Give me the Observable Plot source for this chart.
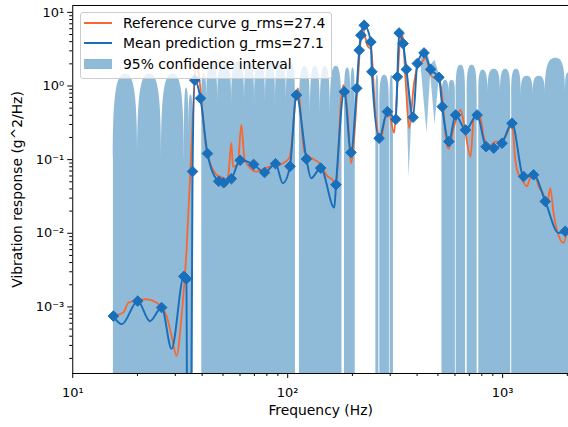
<!DOCTYPE html>
<html><head><meta charset="utf-8">
<script src="https://cdn.jsdelivr.net/npm/d3@7"></script>
<script src="https://cdn.jsdelivr.net/npm/@observablehq/plot@0.6"></script>
<style>
html,body{margin:0;padding:0;background:#fff;}
#wrap{position:relative;width:568px;height:427px;overflow:hidden;font-family:"DejaVu Sans",sans-serif;}
#wrap svg{display:block;}
#legend{position:absolute;left:80px;top:12px;width:252px;height:67px;box-sizing:border-box;border:1px solid #cccccc;border-radius:3px;background:rgba(255,255,255,0.8);}
#legend .txt{position:absolute;left:42px;font-size:13.9px;line-height:16px;white-space:nowrap;color:#000;}
#legend .ln{position:absolute;left:3px;width:28px;height:2px;}
#legend .patch{position:absolute;left:3px;width:28px;height:10px;}
</style></head>
<body>
<div id="wrap"></div>
<script>
// ---- observed points (diamonds) ----
const obsFreq = [15.46,20.06,25.91,32.88,33.77,36.08,36.97,39.30,42.34,47.77,50.39,54.70,60.10,69.41,78.06,87.79,102.5,109.8,122.2,142.4,167.8,183.3,197.0,209.5,215.2,219.1,227.0,243.8,246.5,266.4,291.1,318.4,323.9,329.8,344.2,356.6,383.1,401.0,430.7,462.6,505.5,523.6,562.4,604.3,672.2,761.0,837.5,909.4,993.6,1105.5,1252.6,1393.6,1579,1955];
const obsVal  = [7.5e-4,1.2e-3,9.8e-4,2.6e-3,2.4e-3,0.069,1.2,0.68,0.121,0.0508,0.0485,0.055,0.098,0.086,0.067,0.088,0.081,0.753,0.102,0.0768,0.0456,0.835,0.125,0.93,3.06,4.89,6.67,3.96,1.56,0.195,0.448,0.353,1.33,5.25,3.77,1.68,0.376,2.02,2.81,1.68,1.31,0.524,0.176,0.404,0.253,0.404,0.150,0.143,0.167,0.312,0.059,0.0622,0.0271,0.01064];

// ---- mean prediction curve ----
const meanFreq = [15.46,16.91,20.06,22.87,25.91,28.83,32.88,33.77,34.31,35.17,36.08,36.97,39.30,42.34,47.77,50.39,54.70,60.10,69.41,78.06,87.79,94.9,102.5,109.8,122.2,128.5,142.4,164.8,167.8,183.3,197.0,209.5,215.2,219.1,227.0,243.8,246.5,266.4,291.1,318.4,323.9,329.8,344.2,356.6,383.1,401.0,430.7,462.6,505.5,523.6,562.4,604.3,672.2,761.0,837.5,909.4,993.6,1105.5,1252.6,1393.6,1579,1820,1955,1982];
const meanVal  = [7.5e-4,5.8e-4,1.2e-3,6.4e-4,9.8e-4,2.7e-4,2.6e-3,2.4e-3,1e-7,1e-7,0.069,1.2,0.68,0.121,0.0508,0.0485,0.055,0.098,0.086,0.067,0.088,0.048,0.081,0.753,0.102,0.056,0.0768,0.0223,0.0456,0.835,0.125,0.93,3.06,4.89,6.67,3.96,1.56,0.195,0.448,0.353,1.33,5.25,3.77,1.68,0.376,2.02,2.81,1.68,1.31,0.524,0.176,0.404,0.253,0.404,0.150,0.143,0.167,0.312,0.059,0.0622,0.0271,0.0101,0.01064,0.0115];

// ---- reference curve ----
const refFreq = [15.46,17.2,18.14,20.06,22.08,24.57,27.33,28.83,30.42,32.08,33.84,35.62,37.57,38.59,41.89,46.61,50.02,51.86,53.15,54.70,55.65,58.50,60.88,63.05,71.44,82.34,91.61,101.9,111.4,119.6,126.2,133.1,140.4,153.4,161.8,167.8,177.0,181.4,189.9,197.0,211.3,217.5,224.6,234.4,244.6,255.3,271.3,284.0,296.5,312.7,322.9,333.4,341.6,354.3,367.0,387.1,401.0,417.1,438.6,462.6,488.0,505.5,523.6,552.4,562.4,593.3,614.6,637.3,660.1,709.1,734.4,761.0,789.0,817.2,862.1,925.9,959.3,1030,1105.5,1146,1166,1230,1298,1345,1419,1470,1551,1606,1666,1725,1853,1920,1982];
const refVal  = [7.6e-4,8.4e-4,1.14e-3,1.23e-3,1.27e-3,1.14e-3,7.5e-4,4.04e-4,2.17e-4,7.5e-4,6.02e-3,0.136,2.11,1.40,0.136,0.0623,0.0562,0.0442,0.0684,0.169,0.0799,0.0851,0.296,0.0994,0.069,0.0806,0.0851,0.106,0.928,0.1275,0.110,0.0994,0.0897,0.0591,0.0533,0.0433,0.645,1.03,0.426,0.0897,0.975,3.58,5.71,3.58,3.06,0.472,0.185,0.368,0.404,0.2305,0.880,4.18,5.20,1.09,0.269,1.09,1.82,2.04,2.39,1.40,1.28,1.32,0.714,0.150,0.140,0.280,0.383,0.472,0.312,0.110,0.383,0.426,0.368,0.2054,0.150,0.176,0.176,0.2054,0.296,0.0994,0.0728,0.0533,0.0433,0.0567,0.0591,0.0433,0.0334,0.0232,0.0411,0.0189,0.00822,0.00742,0.0101];

// ---- 95% confidence interval: upper bound at notches / arch tops (lower bound is negative -> floor) ----
const bandFreq = [15.46,17.61,20.06,22.80,25.91,29.26,33.06,33.84,34.68,35.50,36.31,37.5,
 39.84,40.92,42.03,44.57,47.27,50.93,54.89,58.83,63.05,66.51,70.15,74.40,78.90,83.22,87.79,93.10,98.73,103.6,108.7,109.8,
 113.4,120.3,127.6,134.6,141.9,149.7,157.9,168.2,178.9,180.5,
 183.7,190.1,197.0,201.4,206.2,210,
 257.2,261.4,265.6,267.0,268.4,282.6,297.4,298.5,299.6,304.9,310.4,400,
 522.0,541.8,562.4,581.9,602.8,605.5,607.9,639.3,672.2,677,683.8,721.3,761.0,768,774.7,810.3,854.7,914.1,977.8,1034,1090,1096,1102,1159,1220,1300,1386,1479,1579,1772,1961,2025];
const bandUpper = [0.0994,1.45,0.0994,1.45,0.0994,1.45,0.0994,0.937,0.2,0.753,0.2,null,
 0.551,1.45,0.551,2.11,0.551,2.11,0.551,2.11,0.551,2.11,0.551,2.11,0.551,2.11,0.551,2.11,0.551,2.11,0.551,null,
 0.346,1.86,0.346,1.86,0.346,1.86,0.346,1.86,0.346,null,
 0.5,1.75,0.472,1.75,0.5,null,
 0.5,1.40,0.5,null,0.5,1.40,0.5,null,0.5,1.40,0.5,null,
 0.5,1.20,0.753,1.20,0.753,null,0.753,1.92,0.753,null,0.753,1.92,0.753,null,0.753,1.64,0.753,1.69,0.753,1.69,0.753,null,0.753,1.69,0.753,1.36,0.753,1.36,0.753,2.39,0.753,1.5];
const bandFloor = 1e-6;

// ---- narrow interval wisps around the 300-500 Hz peaks ----
const wispFreq = [344.2,356.6,367.0,376.9,383.1,390,417.1,444.7,462.6,484.5,505.5];
const wispLo   = [3.2,1.45,0.058,0.3,0.33,null,1.9,0.23,1.45,0.3,1.15];
const wispHi   = [4.4,1.95,1.0,0.55,0.42,null,2.3,3.2,1.9,2.24,1.5];

// ---- ticks ----
const xMajor = [10,100,1000];
const xMinor = [20,30,40,50,60,70,80,90,200,300,400,500,600,700,800,900,2000];
const yMajor = [1e-3,1e-2,1e-1,1,10];
const yMinor = [2e-4,3e-4,4e-4,5e-4,6e-4,7e-4,8e-4,9e-4,2e-3,3e-3,4e-3,5e-3,6e-3,7e-3,8e-3,9e-3,2e-2,3e-2,4e-2,5e-2,6e-2,7e-2,8e-2,9e-2,0.2,0.3,0.4,0.5,0.6,0.7,0.8,0.9,2,3,4,5,6,7,8,9];

const xLabel = "Frequency (Hz)";
const yLabel = "Vibration response (g^2/Hz)";
const legendLabels = ["Reference curve g_rms=27.4","Mean prediction g_rms=27.1","95% confidence interval"];

const BLUE = "#1a6fba", BAND = "#1f77b4", ORANGE = "#f8672f";

const supMap = {"-":"\u207B","0":"\u2070","1":"\u00B9","2":"\u00B2","3":"\u00B3","4":"\u2074","5":"\u2075","6":"\u2076","7":"\u2077","8":"\u2078","9":"\u2079"};
const fmt = d => "10" + String(Math.round(Math.log10(d))).split("").map(c => supMap[c]).join("");

// rendering curve for the interval: leaves a notch vertically, arrives at an arch top horizontally
function ArchCurve(context) { this._context = context; }
ArchCurve.prototype = {
  areaStart() { this._line = 0; },
  areaEnd() { this._line = NaN; },
  lineStart() { this._point = 0; },
  lineEnd() {
    if (this._line || (this._line !== 0 && this._point === 1)) this._context.closePath();
    this._line = 1 - this._line;
  },
  point(x, y) {
    x = +x; y = +y;
    if (this._point === 0) {
      this._point = 1;
      this._line ? this._context.lineTo(x, y) : this._context.moveTo(x, y);
    } else {
      const x0 = this._x, y0 = this._y, dx = x - x0;
      if (y < y0 - 0.01) this._context.bezierCurveTo(x0, y0 + (y - y0) * 0.8, x0 + dx * 0.3, y, x, y);
      else if (y > y0 + 0.01) this._context.bezierCurveTo(x - dx * 0.3, y0, x, y + (y0 - y) * 0.8, x, y);
      else this._context.lineTo(x, y);
    }
    this._x = x; this._y = y;
  }
};
const curveArch = ctx => new ArchCurve(ctx);

const obs = obsFreq.map((f,i) => ({f, v: obsVal[i]}));
const mean = meanFreq.map((f,i) => ({f, v: meanVal[i]}));
const ref = refFreq.map((f,i) => ({f, v: refVal[i]}));
const band = bandFreq.map((f,i) => ({f, hi: bandUpper[i]}));
const wisp = wispFreq.map((f,i) => ({f, lo: wispLo[i], hi: wispHi[i]}));

const chart = Plot.plot({
  width: 570, height: 427,
  marginLeft: 72.5, marginRight: 0, marginTop: 5, marginBottom: 52.7,
  style: {fontFamily: '"DejaVu Sans", sans-serif', fontSize: "13px", color: "black", background: "white", overflow: "visible"},
  x: {type: "log", domain: [10, 2025], label: null},
  y: {type: "log", domain: [1.247e-4, 12.4], label: null},
  marks: [
    Plot.areaY(band, {x: "f", y1: bandFloor, y2: "hi", fill: BAND, fillOpacity: 0.5, curve: curveArch, clip: true}),
    Plot.areaY(wisp, {x: "f", y1: "lo", y2: "hi", fill: BAND, fillOpacity: 0.45, curve: "linear", clip: true}),
    Plot.line(ref, {x: "f", y: "v", stroke: ORANGE, strokeWidth: 1.8, curve: "monotone-x", clip: true}),
    Plot.line(mean, {x: "f", y: "v", stroke: BLUE, strokeWidth: 2, curve: "monotone-x", clip: true}),
    Plot.dot(obs, {x: "f", y: "v", symbol: "diamond2", r: 4.8, fill: BLUE, stroke: BLUE, strokeWidth: 1}),
    Plot.frame({stroke: "black", strokeWidth: 1}),
    Plot.axisX(xMajor, {tickSize: 5, tickPadding: 9, tickFormat: fmt, fontSize: 13, label: null}),
    Plot.axisX(xMinor, {tickSize: 3, tickFormat: () => "", label: null}),
    Plot.axisY(yMajor, {tickSize: 5, tickPadding: 3.5, tickFormat: fmt, fontSize: 13, label: null}),
    Plot.axisY(yMinor, {tickSize: 3, tickFormat: () => "", label: null}),
    Plot.text([xLabel], {frameAnchor: "bottom", dy: 37.7, fontSize: 13.9, textAnchor: "middle", lineAnchor: "middle", text: d => d}),
    Plot.text([yLabel], {frameAnchor: "left", dx: -55.5, rotate: -90, fontSize: 13.9, textAnchor: "middle", lineAnchor: "middle", text: d => d})
  ]
});
const wrap = document.getElementById("wrap");
wrap.appendChild(chart);

// legend (overlaid, semi-transparent like the original)
const lg = document.createElement("div");
lg.id = "legend";
const rowTop = [1.7, 22.4, 43.1];
lg.innerHTML =
  `<div class="ln" style="top:8.7px;background:${ORANGE}"></div>` +
  `<div class="ln" style="top:29.4px;background:${BLUE}"></div>` +
  `<div class="patch" style="top:46.1px;background:${BAND};opacity:0.5"></div>` +
  legendLabels.map((t,i) => `<div class="txt" style="top:${rowTop[i]}px">${t}</div>`).join("");
wrap.appendChild(lg);
</script>
</body></html>
